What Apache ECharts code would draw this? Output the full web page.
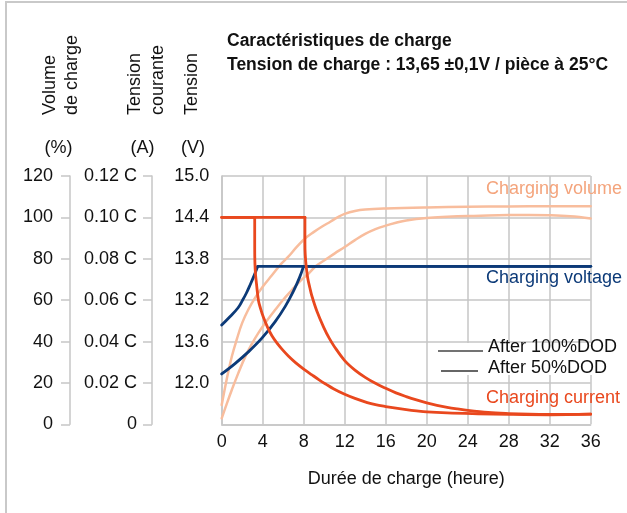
<!DOCTYPE html>
<html>
<head>
<meta charset="utf-8">
<script src="https://cdn.jsdelivr.net/npm/echarts@6/dist/echarts.min.js"></script>
<style>
html,body{margin:0;padding:0;background:#fff;}
#c{width:627px;height:513px;}
</style>
</head>
<body>
<div id="c"></div>
<script>
// ---- data ----
const xTicks = [0, 4, 8, 12, 16, 20, 24, 28, 32, 36];
const volumeTickLabels = ['0', '20', '40', '60', '80', '100', '120'];
const currentTickLabels = ['0', '0.02 C', '0.04 C', '0.06 C', '0.08 C', '0.10 C', '0.12 C'];
const voltageTickLabels = ['', '12.0', '13.6', '13.2', '13.8', '14.4', '15.0'];

// charging volume (%)
const volumeA = [[0,9.3],[0.5,22],[1,33],[1.5,41.5],[2,49],[2.6,55.5],[3.3,61.5],[4,66.5],[4.9,72],[5.8,77.5],[6.5,81],[7.3,85.6],[8.15,89.9],[9,93],[9.8,95.6],[10.6,97.9],[11.3,100],[12,101.7],[13,103.1],[14,103.8],[16,104.3],[20,104.8],[24,105.1],[28,105.3],[32,105.4],[36,105.4]];
const volumeB = [[0,2.9],[0.5,10],[1,16.8],[1.6,24.5],[2.3,32.7],[2.9,38.5],[3.6,44.3],[4.4,50],[5.2,55.2],[6,60.2],[6.85,64.9],[7.65,69.2],[8.5,73],[9.2,76.5],[10.1,79.5],[11,82.5],[12,85.7],[13,89],[14,92],[15,94.3],[16,96],[17,97.4],[18,98.5],[20,99.7],[22,100.3],[24,100.7],[26,100.9],[28,101.1],[30,101.2],[32,101],[34,100.5],[36,99.5]];

// charging current (C)
const currentA = [[0,0.100],[3.22,0.100],[3.22,0.085],[3.24,0.078],[3.3,0.0725],[3.39,0.0681],[3.58,0.060],[3.8,0.0558],[4.07,0.0517],[4.5,0.0466],[4.9,0.0428],[5.4,0.0392],[5.9,0.0362],[6.5,0.0330],[7.2,0.0298],[8,0.0267],[8.8,0.0239],[9.5,0.0215],[10.2,0.0193],[10.9,0.0172],[12,0.0145],[13,0.0125],[14.2,0.0105],[15,0.0095],[16,0.0086],[17,0.0078],[18,0.0071],[19,0.0065],[20,0.0060],[22,0.0055],[25,0.0051],[28,0.0048],[32,0.0046],[36,0.0049]];
const currentB = [[0,0.100],[8.12,0.100],[8.12,0.088],[8.15,0.082],[8.25,0.076],[8.4,0.0705],[8.6,0.066],[8.8,0.062],[9.3,0.0545],[9.94,0.047],[10.5,0.0415],[11,0.0375],[12,0.0308],[13,0.0262],[14,0.0227],[15,0.0198],[16,0.0174],[17,0.0152],[18,0.0134],[19,0.0118],[20,0.0104],[21,0.0092],[22,0.0082],[23,0.0074],[24,0.0067],[26,0.0057],[28,0.0052],[30,0.0049],[32,0.0048],[34,0.0048],[36,0.0049]];

// charging voltage (V)
const voltageA = [[0,12.84],[0.8,12.96],[1.6,13.09],[2.0,13.19],[2.4,13.30],[2.8,13.43],[3.2,13.57],[3.52,13.69],[36,13.69]];
const voltageB = [[0,12.13],[1.3,12.28],[2.6,12.45],[3.9,12.645],[5.2,12.885],[6.2,13.11],[7.0,13.33],[7.6,13.53],[7.98,13.69],[36,13.69]];

// ---- chart ----
const FONT = '"Liberation Sans", Arial, sans-serif';
const C_VOL = '#f8bd9d', C_VOL_TXT = '#f4a47c', C_CUR = '#e9481e', C_VOLT = '#0c3a78';
const GRID_C = '#c6c6c6';

const chart = echarts.init(document.getElementById('c'), null, {renderer: 'canvas'});

function line(name, data, yIdx, color, w, smooth) {
  return {type: 'line', name, data, xAxisIndex: 0, yAxisIndex: yIdx, showSymbol: false, symbol: 'none',
    smooth: smooth || false, lineStyle: {color, width: w, join: 'round', cap: 'round'}, itemStyle: {color}, animation: false, z: 3};
}

const labelStyle = {fontFamily: FONT, fontSize: 18, color: '#111'};
const yLine = {show: true, onZero: false, lineStyle: {color: GRID_C, width: 1.5}};

const option = {
  animation: false,
  backgroundColor: '#fff',
  grid: {left: 221.7, top: 176, width: 369, height: 248.3, containLabel: false},
  xAxis: {
    type: 'value', min: 0, max: 36, interval: 4,
    axisLine: {show: true, onZero: false, lineStyle: {color: GRID_C, width: 1.5}},
    axisTick: {show: false},
    splitLine: {show: true, lineStyle: {color: GRID_C, width: 1.5}},
    axisLabel: Object.assign({margin: 9, formatter: v => String(xTicks[Math.round(v / 4)])}, labelStyle),
    name: 'Durée de charge (heure)', nameLocation: 'middle', nameGap: 46,
    nameTextStyle: {fontFamily: FONT, fontSize: 18, color: '#111'}
  },
  yAxis: [
    {
      type: 'value', position: 'left', offset: 151.7, min: 0, max: 120, interval: 20,
      axisLine: yLine,
      axisTick: {show: true, length: 9, lineStyle: {color: GRID_C, width: 1.5}},
      splitLine: {show: true, lineStyle: {color: GRID_C, width: 1.5}},
      axisLabel: Object.assign({margin: 17, formatter: v => volumeTickLabels[Math.round(v / 20)]}, labelStyle)
    },
    {
      type: 'value', position: 'left', offset: 69.7, min: 0, max: 0.12, interval: 0.02,
      axisLine: yLine,
      axisTick: {show: true, length: 9, lineStyle: {color: GRID_C, width: 1.5}},
      splitLine: {show: false},
      axisLabel: Object.assign({margin: 15, formatter: v => currentTickLabels[Math.round(v / 0.02)]}, labelStyle)
    },
    {
      type: 'value', position: 'left', offset: 0, min: 11.4, max: 15.0, interval: 0.6,
      axisLine: yLine,
      axisTick: {show: false},
      splitLine: {show: false},
      axisLabel: Object.assign({margin: 12.5, formatter: v => voltageTickLabels[Math.round((v - 11.4) / 0.6)]}, labelStyle)
    }
  ],
  series: [
    line('Volume A', volumeA, 0, C_VOL, 2.5, 0.4),
    line('Volume B', volumeB, 0, C_VOL, 2.5, 0.4),
    line('Voltage A rise', voltageA.slice(0, voltageA.length - 1), 2, C_VOLT, 2.8, 0.4),
    line('Voltage A flat', voltageA.slice(voltageA.length - 2), 2, C_VOLT, 2.8),
    line('Voltage B rise', voltageB.slice(0, voltageB.length - 1), 2, C_VOLT, 2.8, 0.4),
    line('Voltage B flat', voltageB.slice(voltageB.length - 2), 2, C_VOLT, 2.8),
    line('Current A flat', currentA.slice(0, 2), 1, C_CUR, 2.8),
    line('Current A decay', currentA.slice(1), 1, C_CUR, 2.8, 0.35),
    line('Current B flat', currentB.slice(0, 2), 1, C_CUR, 2.8),
    line('Current B decay', currentB.slice(1), 1, C_CUR, 2.8, 0.35)
  ],
  graphic: [
    {type: 'rect', shape: {x: 6, y: 2, width: 700, height: 600}, style: {fill: 'none', stroke: '#c9c9c9', lineWidth: 2}, z: 100},
    {type: 'text', x: 227, y: 41.5, style: {text: 'Caractéristiques de charge', font: 'bold 17.5px ' + FONT, fill: '#111', textAlign: 'left', textVerticalAlign: 'middle'}, z: 100},
    {type: 'text', x: 227, y: 65, style: {text: 'Tension de charge : 13,65 ±0,1V / pièce à 25°C', font: 'bold 17.5px ' + FONT, fill: '#111', textAlign: 'left', textVerticalAlign: 'middle'}, z: 100},
    // axis names (rotated)
    {type: 'text', x: 50, y: 115, rotation: Math.PI / 2, style: {text: 'Volume', font: '18px ' + FONT, fill: '#111', textAlign: 'left', textVerticalAlign: 'middle'}, z: 100},
    {type: 'text', x: 72.5, y: 115, rotation: Math.PI / 2, style: {text: 'de charge', font: '18px ' + FONT, fill: '#111', textAlign: 'left', textVerticalAlign: 'middle'}, z: 100},
    {type: 'text', x: 135, y: 115, rotation: Math.PI / 2, style: {text: 'Tension', font: '18px ' + FONT, fill: '#111', textAlign: 'left', textVerticalAlign: 'middle'}, z: 100},
    {type: 'text', x: 158.5, y: 115, rotation: Math.PI / 2, style: {text: 'courante', font: '18px ' + FONT, fill: '#111', textAlign: 'left', textVerticalAlign: 'middle'}, z: 100},
    {type: 'text', x: 192.5, y: 115, rotation: Math.PI / 2, style: {text: 'Tension', font: '18px ' + FONT, fill: '#111', textAlign: 'left', textVerticalAlign: 'middle'}, z: 100},
    {type: 'text', x: 58.5, y: 148, style: {text: '(%)', font: '18px ' + FONT, fill: '#111', textAlign: 'center', textVerticalAlign: 'middle'}, z: 100},
    {type: 'text', x: 142.5, y: 148, style: {text: '(A)', font: '18px ' + FONT, fill: '#111', textAlign: 'center', textVerticalAlign: 'middle'}, z: 100},
    {type: 'text', x: 193, y: 148, style: {text: '(V)', font: '18px ' + FONT, fill: '#111', textAlign: 'center', textVerticalAlign: 'middle'}, z: 100},
    // curve labels
    {type: 'text', x: 486, y: 189, style: {text: 'Charging volume', font: '18px ' + FONT, fill: C_VOL_TXT, textAlign: 'left', textVerticalAlign: 'middle'}, z: 100},
    {type: 'text', x: 486, y: 278, style: {text: 'Charging voltage', font: '18px ' + FONT, fill: C_VOLT, textAlign: 'left', textVerticalAlign: 'middle'}, z: 100},
    {type: 'text', x: 486, y: 398, style: {text: 'Charging current', font: '18px ' + FONT, fill: C_CUR, textAlign: 'left', textVerticalAlign: 'middle'}, z: 100},
    // legend box
    {type: 'rect', shape: {x: 434, y: 343, width: 170, height: 32}, style: {fill: '#fff'}, z: 50},
    {type: 'line', shape: {x1: 438, y1: 351, x2: 483, y2: 351}, style: {stroke: '#444', lineWidth: 1.5}, z: 100},
    {type: 'line', shape: {x1: 441, y1: 371, x2: 478, y2: 371}, style: {stroke: '#333', lineWidth: 1.5}, z: 100},
    {type: 'text', x: 488, y: 347, style: {text: 'After 100%DOD', font: '18px ' + FONT, fill: '#111', textAlign: 'left', textVerticalAlign: 'middle'}, z: 100},
    {type: 'text', x: 488, y: 368, style: {text: 'After 50%DOD', font: '18px ' + FONT, fill: '#111', textAlign: 'left', textVerticalAlign: 'middle'}, z: 100}
  ]
};
chart.setOption(option);
</script>
</body>
</html>
